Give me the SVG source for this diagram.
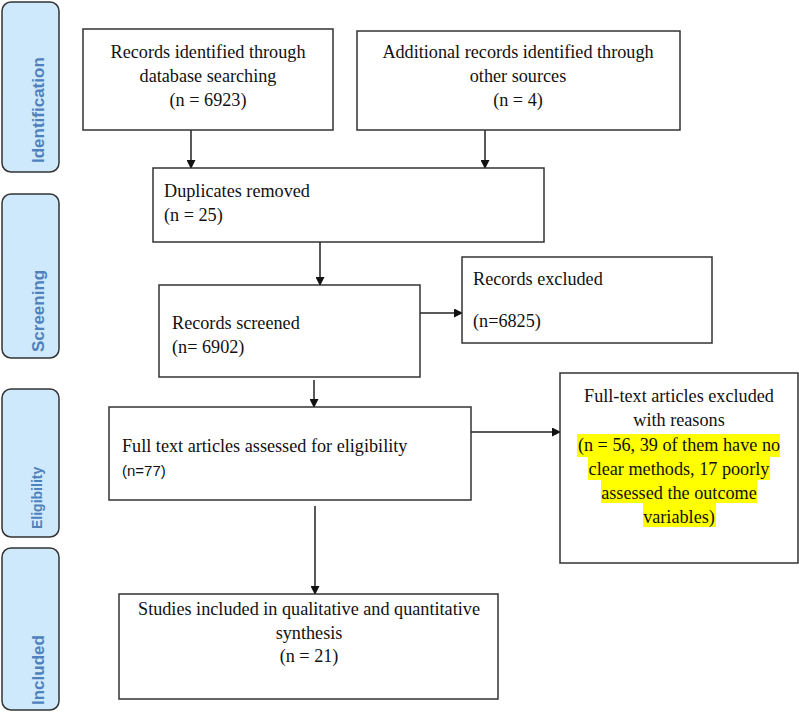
<svg xmlns="http://www.w3.org/2000/svg" width="799" height="712" viewBox="0 0 799 712">
<style>
.box{fill:#fff;stroke:#333;stroke-width:1.5}
.tab{fill:#cfe9fc;stroke:#333;stroke-width:1.5}
.t{font-family:"Liberation Serif","Times New Roman",serif;font-size:18.2px;fill:#111}
.c{text-anchor:middle}
.s{font-family:"Liberation Sans",Arial,sans-serif;font-size:15px;fill:#111}
.tl{font-family:"Liberation Sans",Arial,sans-serif;font-weight:bold;fill:#4f81bd}
.ln{stroke:#222;stroke-width:1.5;fill:none}
.hl{fill:#ffff00}
</style>
<defs>
<marker id="ah" markerWidth="9" markerHeight="9" refX="8" refY="4.5" orient="auto" markerUnits="userSpaceOnUse">
<path d="M0,0 L9,4.5 L0,9 Z" fill="#111"/>
</marker>
</defs>

<g id="tab-identification">
<rect class="tab" x="2" y="2" width="57" height="170" rx="9"/>
<text class="tl" font-size="17" transform="translate(44,163) rotate(-90)">Identification</text>
</g>
<g id="tab-screening">
<rect class="tab" x="2" y="194" width="57" height="164" rx="9"/>
<text class="tl" font-size="17" transform="translate(44,352) rotate(-90)">Screening</text>
</g>
<g id="tab-eligibility">
<rect class="tab" x="2" y="389" width="57" height="148" rx="9"/>
<text class="tl" font-size="14" transform="translate(42,529) rotate(-90)">Eligibility</text>
</g>
<g id="tab-included">
<rect class="tab" x="2" y="548" width="57" height="162" rx="9"/>
<text class="tl" font-size="17" transform="translate(44,705) rotate(-90)">Included</text>
</g>

<g id="connectors">
<line class="ln" x1="191" y1="130" x2="191" y2="168" marker-end="url(#ah)"/>
<line class="ln" x1="485" y1="130" x2="485" y2="168" marker-end="url(#ah)"/>
<line class="ln" x1="320" y1="242" x2="320" y2="285" marker-end="url(#ah)"/>
<line class="ln" x1="420" y1="313" x2="462" y2="313" marker-end="url(#ah)"/>
<line class="ln" x1="314" y1="380" x2="314" y2="407" marker-end="url(#ah)"/>
<line class="ln" x1="471" y1="432" x2="560" y2="432" marker-end="url(#ah)"/>
<line class="ln" x1="315" y1="506" x2="315" y2="594" marker-end="url(#ah)"/>
</g>

<g id="records-db">
<rect class="box" x="83" y="29" width="250" height="101"/>
<text class="t c" x="208" y="58">Records identified through</text>
<text class="t c" x="208" y="82">database searching</text>
<text class="t c" x="208" y="106">(n = 6923)</text>
</g>
<g id="records-other">
<rect class="box" x="357" y="31" width="323" height="99"/>
<text class="t c" x="518" y="58">Additional records identified through</text>
<text class="t c" x="518" y="82">other sources</text>
<text class="t c" x="518" y="106">(n = 4)</text>
</g>
<g id="duplicates">
<rect class="box" x="153" y="168" width="391" height="74"/>
<text class="t" x="164" y="197">Duplicates removed</text>
<text class="t" x="164" y="221">(n = 25)</text>
</g>
<g id="screened">
<rect class="box" x="159" y="285" width="261" height="92"/>
<text class="t" x="172" y="329">Records screened</text>
<text class="t" x="172" y="353">(n= 6902)</text>
</g>
<g id="excluded">
<rect class="box" x="462" y="257" width="250" height="86"/>
<text class="t" x="473" y="285">Records excluded</text>
<text class="t" x="473" y="327">(n=6825)</text>
</g>
<g id="fulltext">
<rect class="box" x="109" y="407" width="362" height="93"/>
<text class="t" x="122" y="452">Full text articles assessed for eligibility</text>
<text class="s" x="122" y="476">(n=77)</text>
</g>
<g id="fulltext-excluded">
<rect class="box" x="560" y="373" width="238" height="190"/>
<rect class="hl" x="577" y="434" width="203" height="23"/>
<rect class="hl" x="588" y="457" width="182" height="23"/>
<rect class="hl" x="601" y="480" width="156" height="23"/>
<rect class="hl" x="643" y="503" width="73" height="24"/>
<text class="t c" x="679" y="402">Full-text articles excluded</text>
<text class="t c" x="679" y="426">with reasons</text>
<text class="t c" x="679" y="451">(n = 56, 39 of them have no</text>
<text class="t c" x="679" y="475">clear methods, 17 poorly</text>
<text class="t c" x="679" y="499">assessed the outcome</text>
<text class="t c" x="679" y="523">variables)</text>
</g>
<g id="included">
<rect class="box" x="119" y="594" width="379" height="105"/>
<text class="t c" x="309" y="615">Studies included in qualitative and quantitative</text>
<text class="t c" x="309" y="639">synthesis</text>
<text class="t c" x="309" y="662">(n = 21)</text>
</g>
</svg>
